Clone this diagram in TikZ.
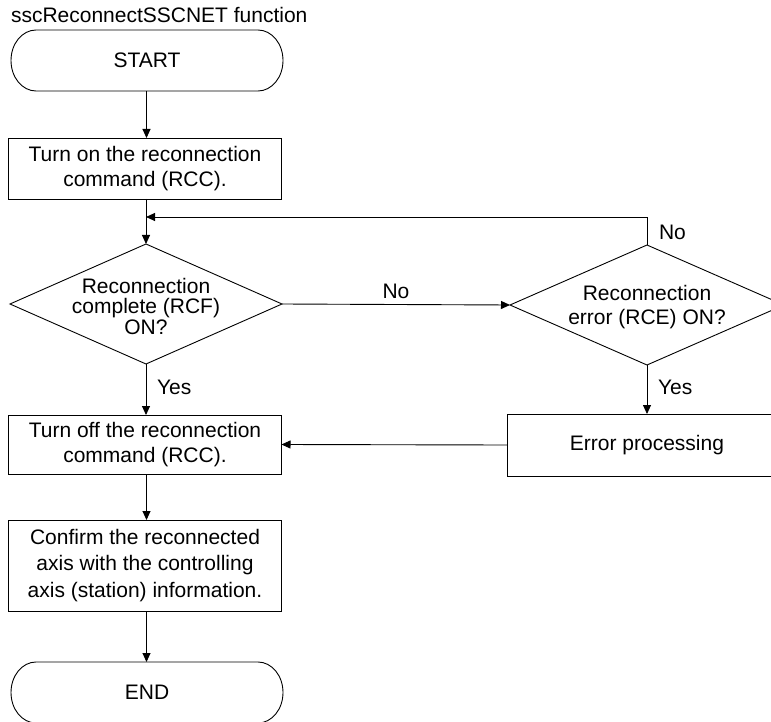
\documentclass[tikz,border=0pt]{standalone}
\usepackage{fontspec}
\setmainfont{Liberation Sans}
\usetikzlibrary{shapes.geometric,arrows.meta,calc}
\begin{document}
\begin{tikzpicture}[x=1pt,y=1pt,
  every node/.style={font=\fontsize{21}{25}\selectfont, inner sep=0pt, outer sep=0pt},
  line/.style={line width=0.9pt, draw=black},
  arr/.style={line, -{Triangle[length=9pt,width=8pt]}},
  proc/.style={draw=black, line width=0.9pt, rectangle, minimum width=273pt, align=center},
  term/.style={rectangle, minimum width=272pt, minimum height=61pt},
  dia/.style={draw=black, line width=0.9pt, diamond, inner sep=0pt}
]
\useasboundingbox (0,0) rectangle (771,-722);
\clip (0,0) rectangle (771,-722);

% title
\node[anchor=base west] (title) at (11,-23) {sscReconnectSSCNET function};

% START terminal
\node[term] (start) at (147,-60.5) {START};
\draw[line] ([xshift=25pt]start.north west) -- ([xshift=-25pt]start.north east)
  arc[start angle=90,end angle=-90,x radius=25pt,y radius=30.5pt]
  -- ([xshift=25pt]start.south west)
  arc[start angle=270,end angle=90,x radius=25pt,y radius=30.5pt] -- cycle;

% box 1
\node[proc, minimum height=61pt] (b1) at (145,-168.5)
  {Turn on the reconnection\\[0pt]command (RCC).};

% diamond 1
\node[dia, minimum width=272pt, minimum height=120pt] (d1) at (146,-304) {};
\node[align=center, font=\fontsize{21}{20.5}\selectfont] (d1t) at (146,-306)
  {Reconnection\\complete (RCF)\\ON?};

% diamond 2
\node[dia, minimum width=274pt, minimum height=120pt] (d2) at (647,-305) {};
\node[align=center, font=\fontsize{21}{23.5}\selectfont] (d2t) at (647,-307)
  {Reconnection\\error (RCE) ON?};

% box 2
\node[proc, minimum height=59pt] (b2) at (145,-444.5)
  {Turn off the reconnection\\command (RCC).};

% error processing
\node[draw=black, line width=0.9pt, rectangle, minimum width=280pt, minimum height=62pt] (err) at (647,-445)
  {Error processing};

% box 3
\node[proc, minimum height=91pt, font=\fontsize{21}{26.5}\selectfont] (b3) at (145,-565.5)
  {Confirm the reconnected\\axis with the controlling\\axis (station) information.};

% END terminal
\node[term] (end) at (147,-692.5) {END};
\draw[line] ([xshift=25pt]end.north west) -- ([xshift=-25pt]end.north east)
  arc[start angle=90,end angle=-90,x radius=25pt,y radius=30.5pt]
  -- ([xshift=25pt]end.south west)
  arc[start angle=270,end angle=90,x radius=25pt,y radius=30.5pt] -- cycle;

% connectors
\draw[arr] (start.south -| 146.5,0) -- (b1.north -| 146.5,0);
\draw[arr] (b1.south -| d1.north) -- (d1.north);
\coordinate (lp) at ($(d2.north)+(0,28)$);
\coordinate (lj) at (d1.north |- lp);
\draw[arr] (d2.north) -- (lp) -- (lj);
\draw[arr] (d1.east) -- node[above=6pt] (no1) {No} (d2.west);
\node[anchor=west] (no2) at (659,-232) {No};
\draw[arr] (d1.south) -- (b2.north -| d1.south) node[pos=0.45, right=11pt] (yes1) {Yes};
\draw[arr] (d2.south) -- (err.north) node[pos=0.45, right=11pt] (yes2) {Yes};
\draw[arr] (err.west) -- (b2.east);
\draw[arr] (b2.south -| 146.5,0) -- (b3.north -| 146.5,0);
\draw[arr] (b3.south -| 146.5,0) -- (end.north -| 146.5,0);
\end{tikzpicture}
\end{document}
